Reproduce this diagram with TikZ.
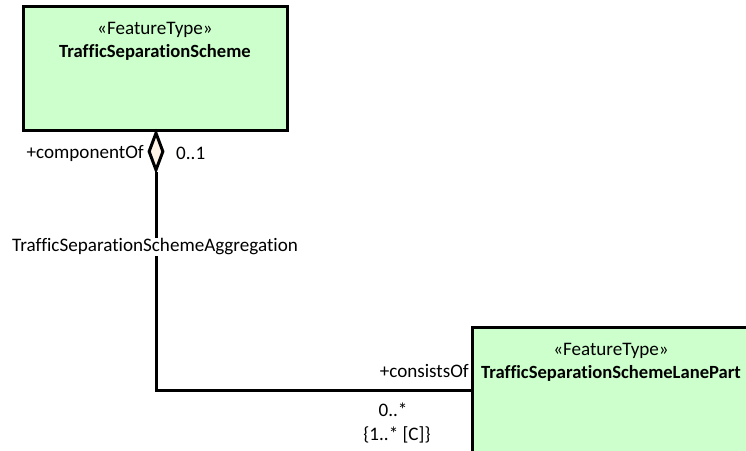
\documentclass[tikz,border=0pt]{standalone}
\usepackage{fontspec}
\setmainfont{Carlito}[Ligatures=NoCommon]
\usetikzlibrary{shapes.geometric}
\definecolor{boxgreen}{HTML}{CCFFCC}
\definecolor{diafill}{HTML}{FFF4E6}
\begin{document}
\begin{tikzpicture}[x=1pt,y=-1pt,
  classbox/.style={draw=black,line width=3pt,fill=boxgreen,rectangle,inner sep=0pt},
  lbl/.style={font=\fontsize{19.1}{22}\selectfont,inner sep=1pt,text=black},
  namelbl/.style={font=\fontsize{18.6}{22}\selectfont\bfseries,inner sep=1pt,text=black},
  conn/.style={draw=black,line width=3pt}]
\useasboundingbox (0,0) rectangle (746,450);
\clip (0,0) rectangle (746,450);
\fill[white] (0,0) rectangle (746,450);
% classes
\node[classbox,minimum width=264pt,minimum height=124pt] (tss) at (155,68) {};
\node[lbl] (tssst) at (155,30) {«FeatureType»};
\node[namelbl] (tssname) at (155,52) {TrafficSeparationScheme};
\node[classbox,minimum width=288pt,minimum height=134pt] (lane) at (616,394) {};
\node[lbl] (lanest) at (611,351) {«FeatureType»};
\node[namelbl] (lanename) at (611,373) {TrafficSeparationSchemeLanePart};
% aggregation
\node[diamond,draw=black,line width=3pt,fill=diafill,inner sep=0pt,minimum width=15pt,minimum height=38pt,anchor=north] (dia) at (156,131) {};
\coordinate (lanein) at (472,390);
\draw[conn] (dia.south) |- (lanein);
% labels
\node[lbl,fill=white,anchor=west] (aggname) at (11,247) {TrafficSeparationSchemeAggregation};
\node[lbl,anchor=east] (rolea) at (145,153) {+componentOf};
\node[lbl,anchor=west] (multa) at (175,153) {0..1};
\node[lbl,fill=white,anchor=east] (roleb) at (470,371) {+consistsOf};
\node[lbl] (multb) at (393,410) {0..*};
\node[lbl] (multc) at (397,435) {\{1..* [C]\}};
\end{tikzpicture}
\end{document}
